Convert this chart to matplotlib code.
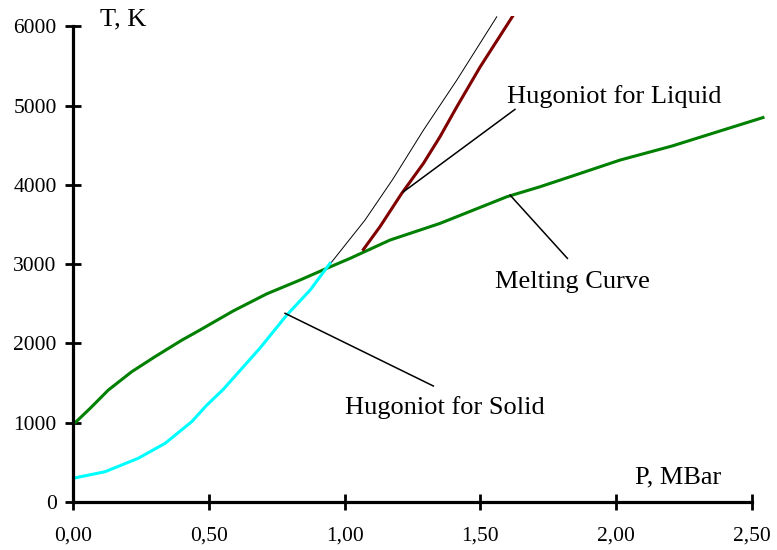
import matplotlib
matplotlib.use("Agg")
import matplotlib.pyplot as plt

plt.rcParams['font.family'] = ['Liberation Serif', 'DejaVu Serif']

# Melting curve
melt_p = [0.0, 0.063, 0.130, 0.216, 0.302, 0.400, 0.468, 0.511, 0.590, 0.713,
          0.836, 0.934, 1.020, 1.167, 1.351, 1.597, 1.719, 1.83, 2.014, 2.204, 2.54]
melt_t = [975, 1181, 1412, 1643, 1833, 2040, 2170, 2255, 2410, 2625,
          2800, 2947, 3073, 3304, 3514, 3850, 3976, 4102, 4313, 4489, 4849]

# Hugoniot for solid
sol_p = [0.0, 0.118, 0.240, 0.339, 0.437, 0.492, 0.553, 0.688, 0.787, 0.873, 0.946]
sol_t = [299, 382, 551, 740, 1013, 1220, 1420, 1940, 2358, 2673, 3010]

# Thin black (continuation of solid Hugoniot)
thin_p = [0.946, 1.075, 1.179, 1.290, 1.413, 1.560]
thin_t = [3000, 3556, 4080, 4690, 5322, 6120]

# Hugoniot for liquid
liq_p = [1.069, 1.130, 1.210, 1.290, 1.351, 1.413, 1.499, 1.621]
liq_t = [3185, 3472, 3892, 4271, 4607, 4985, 5489, 6141]

x_ticks = [0.0, 0.5, 1.0, 1.5, 2.0, 2.5]
x_labels = ["0,00", "0,50", "1,00", "1,50", "2,00", "2,50"]
y_ticks = [0, 1000, 2000, 3000, 4000, 5000, 6000]
y_labels = ["0", "1000", "2000", "3000", "4000", "5000", "6000"]

fig = plt.figure(figsize=(7.77, 5.5), dpi=100)
ax = fig.add_axes([0.09395, 0.08727, 0.8915, 0.88364])

ax.plot(thin_p, thin_t, color='black', lw=0.7)
ax.plot(melt_p, melt_t, color='#008000', lw=2.2, solid_joinstyle='round')
ax.plot(sol_p, sol_t, color='#00FFFF', lw=2.2, solid_joinstyle='round')
ax.plot(liq_p, liq_t, color='#800000', lw=2.2, solid_joinstyle='round')

ax.set_xlim(0, 2.55)
ax.set_ylim(0, 6130)

for s in ['top', 'right']:
    ax.spines[s].set_visible(False)
ax.spines['left'].set_bounds(0, 6000)
ax.spines['bottom'].set_bounds(0, 2.5)
for s in ['left', 'bottom']:
    ax.spines[s].set_linewidth(2.3)

ax.set_xticks(x_ticks)
ax.set_xticklabels(x_labels)
ax.set_yticks(y_ticks)
ax.set_yticklabels(y_labels)
ax.tick_params(axis='both', direction='inout', length=11.5, width=2.0, labelsize=15.5)
ax.tick_params(axis='x', pad=12)
ax.tick_params(axis='y', pad=6)

fs = 19
ax.text(0.0994, 6015, "T, K", fontsize=fs, va='baseline', ha='left')
ax.text(2.069, 236, "P, MBar", fontsize=fs, va='baseline', ha='left')
ax.text(1.597, 5028, "Hugoniot for Liquid", fontsize=fs, va='baseline', ha='left')
ax.text(1.554, 2699, "Melting Curve", fontsize=fs, va='baseline', ha='left')
ax.text(1.0015, 1110, "Hugoniot for Solid", fontsize=fs, va='baseline', ha='left')

ax.plot([1.627, 1.215], [4952, 3909], color='black', lw=1.1)
ax.plot([1.609, 1.820], [3871, 3073], color='black', lw=1.1)
ax.plot([0.7806, 1.3266], [2380, 1463], color='black', lw=1.1)

fig.savefig("out.png", dpi=100)
